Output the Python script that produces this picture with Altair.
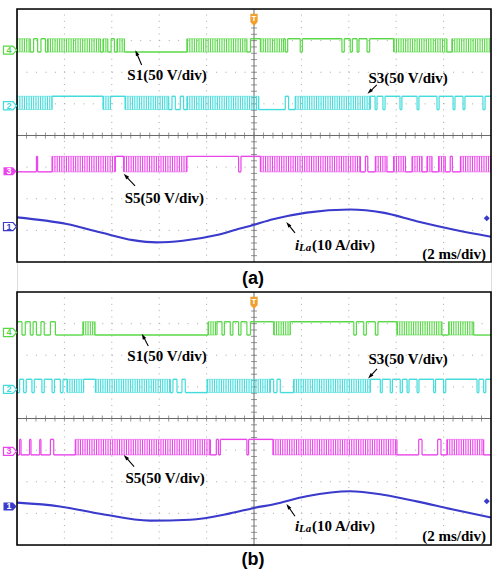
import math
import altair as alt
import pandas as pd

# ---------------- data ----------------
# time axis in ms (2 ms/div, 10 div); vertical positions in divisions (8 div)
X_MAX = 20.0

CH = ["S1", "S3", "S5", "iLa"]
CH_COL = ["#58d846", "#42dcdc", "#ea45ea", "#3a3acc"]

# (high, low) levels of the gate signals in divisions
LEVELS = {"S1": (3.06, 2.64), "S3": (1.24, 0.82), "S5": (-0.66, -1.15)}

# switching sequences: (start time ms, state)  H = high, L = low, P = dense PWM
a_S1 = [(0.00, "P"), (0.56, "L"), (0.70, "H"), (0.87, "L"), (1.01, "H"), (1.20, "L"), (1.29, "P"),
        (3.52, "L"), (3.63, "P"), (3.83, "L"), (3.97, "H"), (4.11, "L"), (4.22, "P"), (4.53, "L"),
        (7.17, "P"), (9.70, "L"), (9.85, "H"), (10.27, "P"), (11.25, "H"), (11.32, "L"), (11.42, "H"),
        (11.95, "L"), (12.04, "H"), (13.71, "L"), (13.81, "H"), (14.06, "L"), (14.15, "H"), (14.35, "L"),
        (14.43, "H"), (14.77, "L"), (14.88, "H"), (15.89, "P"), (18.14, "L"), (18.35, "P")]
a_S3 = [(0.00, "P"), (1.48, "H"), (3.63, "P"), (3.94, "H"), (4.56, "P"), (6.40, "L"), (6.54, "H"),
        (6.68, "L"), (6.89, "H"), (7.03, "L"), (7.17, "P"), (10.20, "L"), (11.32, "H"), (11.46, "L"),
        (11.74, "P"), (14.91, "H"), (15.11, "L"), (15.19, "H"), (15.44, "L"), (15.53, "H"), (16.16, "L"),
        (16.24, "H"), (16.88, "L"), (16.96, "H"), (17.72, "L"), (17.81, "H"), (18.40, "L"), (18.48, "H"),
        (18.82, "L"), (18.90, "H"), (19.66, "L"), (19.75, "H")]
a_S5 = [(0.00, "L"), (0.82, "H"), (0.87, "L"), (1.48, "P"), (4.15, "H"), (4.50, "P"), (7.17, "H"),
        (9.35, "L"), (9.45, "H"), (10.27, "P"), (14.49, "L"), (14.70, "H"), (14.80, "L"), (15.12, "P"),
        (15.61, "L"), (15.89, "P"), (16.39, "L"), (16.67, "P"), (17.09, "L"), (17.30, "P"), (17.51, "L"),
        (17.79, "P"), (18.07, "L"), (18.28, "H"), (18.37, "L"), (18.71, "P")]

b_S1 = [(0.00, "H"), (0.21, "L"), (0.35, "H"), (0.56, "L"), (0.68, "H"), (0.82, "L"), (1.01, "H"),
        (1.15, "L"), (1.41, "H"), (1.62, "L"), (2.78, "P"), (3.29, "L"), (8.06, "P"), (8.44, "H"),
        (8.65, "L"), (8.75, "H"), (9.00, "L"), (9.11, "H"), (9.35, "L"), (9.45, "H"), (9.70, "L"),
        (9.85, "H"), (10.83, "P"), (11.53, "H"), (14.21, "L"), (14.32, "H"), (14.63, "L"), (14.74, "H"),
        (15.12, "L"), (15.23, "H"), (16.03, "P"), (17.93, "L"), (18.21, "P"), (19.27, "L")]
b_S3 = [(0.00, "L"), (0.11, "H"), (0.28, "L"), (0.39, "H"), (0.63, "L"), (0.73, "H"), (1.05, "L"),
        (1.15, "H"), (1.48, "L"), (1.58, "H"), (1.83, "L"), (1.94, "H"), (2.11, "P"), (2.81, "H"),
        (3.31, "P"), (6.47, "L"), (6.58, "H"), (6.75, "L"), (6.96, "H"), (7.10, "L"), (8.02, "P"),
        (10.69, "H"), (10.83, "L"), (10.97, "H"), (11.11, "L"), (11.67, "P"), (14.91, "H"), (15.33, "L"),
        (15.41, "H"), (15.75, "L"), (15.84, "H"), (16.17, "L"), (16.26, "H"), (16.46, "L"), (16.54, "H"),
        (16.88, "L"), (16.96, "H"), (17.58, "L"), (17.66, "H"), (18.00, "L"), (18.09, "H"), (19.41, "L"),
        (19.49, "H"), (19.69, "L"), (19.78, "H")]
b_S5 = [(0.00, "L"), (0.11, "H"), (0.17, "L"), (0.53, "H"), (0.59, "L"), (0.96, "H"), (1.01, "L"),
        (1.41, "H"), (1.55, "L"), (2.46, "P"), (8.16, "L"), (8.41, "H"), (8.50, "L"), (8.58, "H"),
        (9.70, "L"), (9.77, "H"), (10.80, "P"), (16.03, "L"), (16.95, "H"), (17.09, "L"), (17.75, "H"),
        (17.89, "L"), (18.14, "P"), (19.69, "L")]

# inductor current i_La (10 A/div)
iLa_a_t = [0.00, 2.10, 3.50, 4.89, 5.89, 7.00, 8.43, 9.41, 9.83, 10.80, 12.22, 14.05, 15.44, 16.86, 18.40, 20.00]
iLa_a_v = [-2.59, -2.80, -3.06, -3.31, -3.38, -3.33, -3.15, -2.94, -2.86, -2.65, -2.44, -2.34, -2.44, -2.71, -2.97, -3.20]
iLa_b_t = [0.00, 1.81, 3.50, 5.61, 7.30, 8.99, 10.05, 10.80, 12.22, 14.05, 15.44, 16.86, 18.40, 20.00]
iLa_b_v = [-2.66, -2.78, -3.01, -3.23, -3.20, -3.00, -2.82, -2.72, -2.46, -2.30, -2.41, -2.62, -2.88, -3.13]

# channel reference markers
MARK_NUM = {"S1": "4", "S3": "2", "S5": "3", "iLa": "1"}
MARK_Y = {"a": {"S1": 2.70, "S3": 0.94, "S5": -1.13, "iLa": -2.88},
          "b": {"S1": 2.72, "S3": 0.92, "S5": -1.04, "iLa": -2.78}}
MARK_FILLED = {"a": ["S5"], "b": ["iLa"]}

# annotations: text, text x, text y, arrow tip x, tip y, tail x, tail y
ANN_a = [("S1(50 V/div)", 6.33, 1.92, 5.05, 2.60, 5.26, 2.23),
         ("S3(50 V/div)", 16.50, 1.82, 14.89, 1.39, 15.18, 1.60),
         ("S5(50 V/div)", 6.22, -1.97, 4.60, -1.29, 4.98, -1.59),
         ("iLa", 11.73, -3.45, 11.45, -2.82, 11.73, -3.08)]
ANN_b = [("S1(50 V/div)", 6.33, 1.97, 5.33, 2.59, 5.54, 2.29),
         ("S3(50 V/div)", 16.50, 1.87, 14.91, 1.34, 15.19, 1.57),
         ("S5(50 V/div)", 6.25, -1.87, 4.60, -1.23, 4.94, -1.52),
         ("iLa", 11.73, -3.41, 11.45, -2.79, 11.73, -3.09)]
SCALE_TXT = {"a": (18.44, -3.76), "b": (18.44, -3.72)}
PANEL_LBL = {"a": "(a)", "b": "(b)"}

# ---------------- layout ----------------
GAP = 0.95
Y_OFF = {"a": 8.0 + GAP, "b": 0.0}
Y_DOM = [-4.0, 8.0 + GAP + 4.0]
W, H = 474, 536
SX = W / X_MAX
SY = H / (Y_DOM[1] - Y_DOM[0])
LBL_Y = {"a": 4.41, "b": -4.48}

xs = alt.Scale(domain=[0, X_MAX], nice=False, zero=False)
ys = alt.Scale(domain=Y_DOM, nice=False, zero=False)


def X(f="x"):
    return alt.X(f"{f}:Q", scale=xs, axis=None)


def Y(f="y"):
    return alt.Y(f"{f}:Q", scale=ys, axis=None)


color = alt.Color("ch:N", scale=alt.Scale(domain=CH, range=CH_COL), legend=None)

traces = {"a": {"S1": a_S1, "S3": a_S3, "S5": a_S5}, "b": {"S1": b_S1, "S3": b_S3, "S5": b_S5}}
flat_rows, edge_rows, band_rows = [], [], []
for p, d in traces.items():
    off = Y_OFF[p]
    for ch, seq in d.items():
        hi, lo = LEVELS[ch]
        starts = [s for s, _ in seq]
        ends = starts[1:] + [X_MAX]
        for (s, st), e in zip(seq, ends):
            if st == "P":
                band_rows.append(dict(ch=ch, x=s, x2=e, y=(hi + lo) / 2 + off,
                                      yh=hi + off, yl=lo + off, w=(hi - lo) * SY))
            else:
                flat_rows.append(dict(ch=ch, x=s, x2=e, y=(hi if st == "H" else lo) + off))
        for s in starts[1:]:
            edge_rows.append(dict(ch=ch, x=s, y=lo + off, y2=hi + off))
flat = pd.DataFrame(flat_rows)
edges = pd.DataFrame(edge_rows)
bands = pd.DataFrame(band_rows)

# grid
hg, vg, frame, cross_h, cross_v, tick_h, tick_v = [], [], [], [], [], [], []
for p, off in Y_OFF.items():
    for g in [-3, -2, -1, 1, 2, 3]:
        hg.append(dict(x=0, x2=X_MAX, y=g + off))
    for g in [2, 4, 6, 8, 12, 14, 16, 18]:
        vg.append(dict(x=g, y=-4 + off, y2=4 + off))
    frame.append(dict(x=0, x2=X_MAX, y=-4 + off, y2=4 + off))
    cross_h.append(dict(x=0, x2=X_MAX, y=off))
    cross_v.append(dict(x=10, y=-4 + off, y2=4 + off))
    for k in range(1, 50):
        tick_h.append(dict(x=0.4 * k, y=off))
    for k in range(-19, 20):
        tick_v.append(dict(x=10, y=0.2 * k + off))

grid_h = alt.Chart(pd.DataFrame(hg)).mark_rule(color="#a8a8a8", strokeWidth=1, strokeDash=[1, 8.48]).encode(
    x=X(), x2="x2:Q", y=Y())
grid_v = alt.Chart(pd.DataFrame(vg)).mark_rule(color="#a8a8a8", strokeWidth=1, strokeDash=[1, 5.32]).encode(
    x=X(), y=Y(), y2="y2:Q")
c_h = alt.Chart(pd.DataFrame(cross_h)).mark_rule(color="#6a6a6a", strokeWidth=1).encode(x=X(), x2="x2:Q", y=Y())
c_v = alt.Chart(pd.DataFrame(cross_v)).mark_rule(color="#6a6a6a", strokeWidth=1).encode(x=X(), y=Y(), y2="y2:Q")
t_h = alt.Chart(pd.DataFrame(tick_h)).mark_tick(orient="vertical", size=6, thickness=1, color="#6a6a6a").encode(
    x=X(), y=Y())
t_v = alt.Chart(pd.DataFrame(tick_v)).mark_tick(orient="horizontal", size=6, thickness=1, color="#6a6a6a").encode(
    x=X(), y=Y())
frame_l = alt.Chart(pd.DataFrame(frame)).mark_rect(fill="white", fillOpacity=0, stroke="black", strokeWidth=1.6).encode(
    x=X(), x2="x2:Q", y=Y(), y2="y2:Q")

# traces
band_l = alt.Chart(bands).mark_rule(strokeDash=[1.1, 1.2], strokeCap="butt", opacity=1).encode(
    x=X(), x2="x2:Q", y=Y(), color=color, strokeWidth=alt.StrokeWidth("w:Q", scale=None))
band_hi = alt.Chart(bands).mark_rule(strokeWidth=1, opacity=0.6).encode(x=X(), x2="x2:Q", y=Y("yh"), color=color)
band_lo = alt.Chart(bands).mark_rule(strokeWidth=1, opacity=0.6).encode(x=X(), x2="x2:Q", y=Y("yl"), color=color)
flat_l = alt.Chart(flat).mark_rule(strokeWidth=1.4).encode(x=X(), x2="x2:Q", y=Y(), color=color)
edge_l = alt.Chart(edges).mark_rule(strokeWidth=1.2).encode(x=X(), y=Y(), y2="y2:Q", color=color)

cur_rows = []
for p, tt, vv in [("a", iLa_a_t, iLa_a_v), ("b", iLa_b_t, iLa_b_v)]:
    for t, v in zip(tt, vv):
        cur_rows.append(dict(p=p, x=t, y=v + Y_OFF[p], ch="iLa"))
cur_l = alt.Chart(pd.DataFrame(cur_rows)).mark_line(interpolate="monotone", strokeWidth=2.1).encode(
    x=X(), y=Y(), color=color, detail="p:N")

# markers
MARK_PATH = "M-1,-0.62 L0.45,-0.62 L1,0 L0.45,0.62 L-1,0.62 Z"
mk_rows = []
for p in ["a", "b"]:
    for ch in CH:
        mk_rows.append(dict(ch=ch, x=-0.295, y=MARK_Y[p][ch] + Y_OFF[p], num=MARK_NUM[ch],
                            filled=ch in MARK_FILLED[p]))
mk = pd.DataFrame(mk_rows)
mk_out = alt.Chart(mk[~mk.filled]).mark_point(shape=MARK_PATH, size=170, filled=True, fill="white",
                                              strokeWidth=1.2, opacity=1).encode(
    x=X(), y=Y(), stroke=alt.Stroke("ch:N", scale=alt.Scale(domain=CH, range=CH_COL), legend=None))
mk_fill = alt.Chart(mk[mk.filled]).mark_point(shape=MARK_PATH, size=170, filled=True, opacity=1).encode(
    x=X(), y=Y(), color=color)
mk_txt_out = alt.Chart(mk[~mk.filled]).mark_text(font="Liberation Sans", fontSize=9, fontWeight="bold", dx=-1).encode(
    x=X(), y=Y(), text="num:N", color=color)
mk_txt_fill = alt.Chart(mk[mk.filled]).mark_text(font="Liberation Sans", fontSize=9, fontWeight="bold", dx=-1,
                                                 color="white").encode(x=X(), y=Y(), text="num:N")

TRIG_PATH = "M-0.6,-1 L0.6,-1 L0.6,0.35 L0,1 L-0.6,0.35 Z"
trig = pd.DataFrame([dict(x=10, y=3.66 + Y_OFF[p], t="T") for p in ["a", "b"]])
trig_l = alt.Chart(trig).mark_point(shape=TRIG_PATH, size=150, filled=True, color="#f0a030", opacity=1).encode(
    x=X(), y=Y())
trig_t = alt.Chart(trig).mark_text(font="Liberation Sans", fontSize=8, fontWeight="bold", color="white", dy=-1).encode(
    x=X(), y=Y(), text="t:N")
rmk = pd.DataFrame([dict(x=19.82, y=-2.62 + Y_OFF[p]) for p in ["a", "b"]])
rmk_l = alt.Chart(rmk).mark_point(shape="diamond", size=36, filled=True, color="#3a3acc", opacity=1).encode(
    x=X(), y=Y())

# annotations
txt_rows, il_rows, arr_rows = [], [], []
for p, ann in [("a", ANN_a), ("b", ANN_b)]:
    off = Y_OFF[p]
    for text, tx, ty, hx, hy, lx, ly in ann:
        if text == "iLa":
            il_rows.append(dict(x=tx, y=ty + off))
        else:
            txt_rows.append(dict(x=tx, y=ty + off, text=text))
        ang = math.degrees(math.atan2((hx - lx) * SX, (hy - ly) * SY)) % 360
        arr_rows.append(dict(x=lx, y=ly + off, x2=hx, y2=hy + off, ang=ang))
    sx_, sy_ = SCALE_TXT[p]
    txt_rows.append(dict(x=sx_, y=sy_ + off, text="(2 ms/div)"))
txt_df = pd.DataFrame(txt_rows)
il_df = pd.DataFrame(il_rows)
arr_df = pd.DataFrame(arr_rows)

ann_txt = alt.Chart(txt_df).mark_text(font="Liberation Serif", fontSize=15, fontWeight="bold", color="black",
                                      align="center", baseline="middle").encode(x=X(), y=Y(), text="text:N")
il_i = alt.Chart(il_df).mark_text(font="Liberation Serif", fontSize=15, fontWeight="bold", fontStyle="italic",
                                  color="black", align="left", baseline="middle").encode(
    x=X(), y=Y(), text=alt.value("i"))
il_la = alt.Chart(il_df).mark_text(font="Liberation Serif", fontSize=11, fontWeight="bold", fontStyle="italic",
                                   color="black", align="left", baseline="middle", dx=4, dy=3).encode(
    x=X(), y=Y(), text=alt.value("La"))
il_rest = alt.Chart(il_df).mark_text(font="Liberation Serif", fontSize=15, fontWeight="bold",
                                     color="black", align="left", baseline="middle", dx=17).encode(
    x=X(), y=Y(), text=alt.value("(10 A/div)"))
arr_line = alt.Chart(arr_df).mark_rule(color="black", strokeWidth=1.1).encode(x=X(), y=Y(), x2="x2:Q", y2="y2:Q")
ARR_PATH = "M0,-1 L0.55,0.75 L-0.55,0.75 Z"
arr_head = alt.Chart(arr_df).mark_point(shape=ARR_PATH, size=45, filled=True, color="black", opacity=1).encode(
    x=X("x2"), y=Y("y2"), angle=alt.Angle("ang:Q", scale=None))

lbl = pd.DataFrame([dict(x=9.96, y=LBL_Y[p], text=PANEL_LBL[p]) for p in ["a", "b"]])
lbl_l = alt.Chart(lbl).mark_text(font="Liberation Sans", fontSize=18, fontWeight="bold", color="black",
                                 align="center", baseline="middle").encode(x=X(), y=Y(), text="text:N")

chart = alt.layer(
    grid_h, grid_v, c_h, c_v, t_h, t_v,
    band_l, band_hi, band_lo, flat_l, edge_l, cur_l,
    frame_l, mk_out, mk_fill, mk_txt_out, mk_txt_fill, trig_l, trig_t, rmk_l,
    arr_line, arr_head, ann_txt, il_i, il_la, il_rest, lbl_l,
).properties(
    width=W, height=H,
    padding={"left": 17, "top": 9, "right": 2, "bottom": 29},
    autosize=alt.AutoSizeParams(type="none"),
).configure_view(stroke=None).configure(background="white")

chart.save("out.html", embed_options={"renderer": "svg", "actions": False})
